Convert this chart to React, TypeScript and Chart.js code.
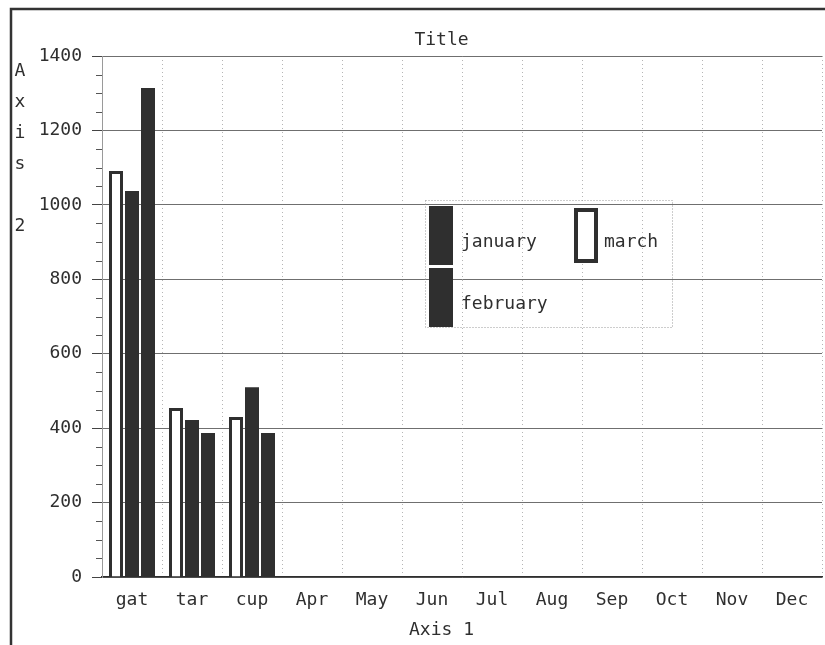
import React, { useEffect, useRef } from 'react';
import { Chart, registerables } from 'chart.js';

Chart.register(...registerables);

// ---- data ----
const categories = ['gat', 'tar', 'cup', 'Apr', 'May', 'Jun', 'Jul', 'Aug', 'Sep', 'Oct', 'Nov', 'Dec'];
const january = [1037, 422, 510];
const february = [1314, 387, 387];
const march = [1091, 454, 430];
const yMin = 0;
const yMax = 1400;
const yStep = 200;
const yMinorStep = 50;
const chartTitle = 'Title';
const xAxisTitle = 'Axis 1';
const yAxisTitle = 'Axis 2';
const legendOrder = ['january', 'february', 'march'];

const FONT = '"DejaVu Sans Mono", "Liberation Mono", monospace';
const INK = '#2f2f2f';

const framePlugin = {
  id: 'frame',
  beforeDraw(chart: any) {
    const ctx = chart.ctx;
    ctx.save();
    ctx.fillStyle = '#ffffff';
    ctx.fillRect(0, 0, chart.width, chart.height);
    ctx.strokeStyle = '#333';
    ctx.lineWidth = 2.5;
    ctx.beginPath();
    ctx.moveTo(11, chart.height);
    ctx.lineTo(11, 9);
    ctx.lineTo(chart.width, 9);
    ctx.stroke();
    ctx.restore();
  },
};

const extrasPlugin = {
  id: 'extras',
  afterDraw(chart: any) {
    const ctx = chart.ctx;
    const { left, right, top, width, height } = chart.chartArea;
    const y = chart.scales.y;
    const textCenterX = (left - 41 + right) / 2;
    ctx.save();
    // minor ticks
    ctx.strokeStyle = '#555';
    ctx.lineWidth = 1;
    for (let v = yMin; v <= yMax; v += yMinorStep) {
      if (v % yStep === 0) continue;
      const py = Math.round(y.getPixelForValue(v)) + 0.5;
      ctx.beginPath();
      ctx.moveTo(left - 6, py);
      ctx.lineTo(left, py);
      ctx.stroke();
    }
    ctx.fillStyle = INK;
    ctx.font = `18px ${FONT}`;
    ctx.textAlign = 'center';
    ctx.textBaseline = 'middle';
    // chart title
    ctx.fillText(chartTitle, textCenterX, top - 16);
    // y axis title, stacked letters
    yAxisTitle.split('').forEach((ch, i) => {
      ctx.fillText(ch, 20, top + 15 + i * 31);
    });
    // x axis title
    ctx.fillText(xAxisTitle, textCenterX, 630);

    // legend
    const bx = Math.round(left + width * 0.449) + 0.5;
    const by = Math.round(top + height * 0.276) + 0.5;
    const bw = 247;
    const bh = 127;
    ctx.strokeStyle = '#9a9a9a';
    ctx.setLineDash([1, 2]);
    ctx.strokeRect(bx, by, bw, bh);
    ctx.setLineDash([]);
    const datasets = chart.data.datasets;
    legendOrder.forEach((name, i) => {
      const ds = datasets.find((d: any) => d.label === name);
      if (!ds) return;
      const col = Math.floor(i / 2);
      const row = i % 2;
      const sx = Math.round(bx + 3 + col * 145);
      const sy = Math.round(by + 5 + row * 62);
      const sw = 24;
      const sh = 59;
      if (ds.borderWidth && ds.borderWidth > 0) {
        ctx.fillStyle = ds.borderColor;
        ctx.fillRect(sx, sy + 2, sw, sh - 4);
        ctx.fillStyle = ds.backgroundColor;
        ctx.fillRect(sx + 4, sy + 6, sw - 8, sh - 12);
      } else {
        ctx.fillStyle = ds.backgroundColor;
        ctx.fillRect(sx, sy, sw, sh);
      }
      ctx.fillStyle = INK;
      ctx.textAlign = 'left';
      ctx.font = `18px ${FONT}`;
      ctx.fillText(name, sx + (col === 0 ? 32 : 30), sy + 36);
    });
    ctx.restore();
  },
};

export default function App() {
  const ref = useRef<HTMLCanvasElement | null>(null);

  useEffect(() => {
    if (!ref.current) return;
    const chart = new Chart(ref.current, {
      type: 'bar',
      data: {
        labels: categories,
        datasets: [
          {
            label: 'march',
            data: march,
            backgroundColor: '#ffffff',
            borderColor: INK,
            borderWidth: 3,
          },
          {
            label: 'january',
            data: january,
            backgroundColor: INK,
            borderWidth: 0,
          },
          {
            label: 'february',
            data: february,
            backgroundColor: INK,
            borderWidth: 0,
          },
        ],
      } as any,
      options: {
        animation: false,
        responsive: false,
        devicePixelRatio: 1,
        layout: { padding: { left: 0, right: 3, top: 56, bottom: 0 } },
        datasets: { bar: { categoryPercentage: 0.8, barPercentage: 0.875 } },
        plugins: {
          legend: { display: false },
          tooltip: { enabled: false },
          title: { display: false },
        },
        scales: {
          x: {
            afterFit: (s: any) => {
              s.height = 68;
            },
            grid: {
              color: '#b5b5b5',
              drawTicks: false,
              offset: true,
            },
            border: { display: true, color: INK, width: 1.5, dash: [1, 3] },
            ticks: {
              color: INK,
              padding: 13,
              font: { family: FONT, size: 18 },
              maxRotation: 0,
              autoSkip: false,
            },
          },
          y: {
            min: yMin,
            max: yMax,
            afterFit: (s: any) => {
              s.width = 102;
            },
            grid: {
              color: '#6f6f6f',
              lineWidth: 1,
              tickLength: 10,
              tickColor: '#444',
            },
            border: { display: true, color: '#9a9a9a', dash: [] },
            ticks: {
              stepSize: yStep,
              color: INK,
              padding: 10,
              font: { family: FONT, size: 18 },
              callback: (v: any) => String(v),
            },
          },
        },
      } as any,
      plugins: [framePlugin, extrasPlugin],
    });
    return () => chart.destroy();
  }, []);

  return (
    <div style={{ position: 'absolute', left: 0, top: 0, width: 825, height: 645 }}>
      <canvas ref={ref} width={825} height={645} style={{ display: 'block' }} />
    </div>
  );
}
